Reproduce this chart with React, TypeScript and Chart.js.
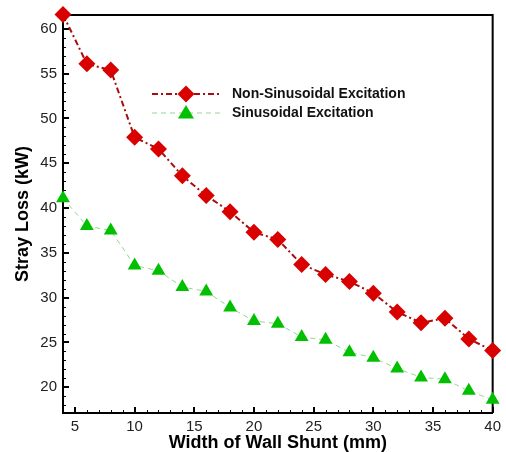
import React, { useEffect, useRef } from "react";
import { Chart, registerables } from "chart.js";

Chart.register(...registerables);

const widths = [4, 6, 8, 10, 12, 14, 16, 18, 20, 22, 24, 26, 28, 30, 32, 34, 36, 38, 40];
const nonSinusoidal = [61.6, 56.1, 55.4, 47.9, 46.6, 43.6, 41.4, 39.6, 37.3, 36.5, 33.7, 32.6, 31.8, 30.5, 28.4, 27.2, 27.7, 25.4, 24.1];
const sinusoidal = [41.1, 38.0, 37.5, 33.6, 33.0, 31.2, 30.7, 28.9, 27.4, 27.1, 25.6, 25.3, 23.9, 23.3, 22.1, 21.1, 20.9, 19.6, 18.6];
const xTicks = [5, 10, 15, 20, 25, 30, 35, 40];
const yTicks = [20, 25, 30, 35, 40, 45, 50, 55, 60];
const seriesNames = ["Non-Sinusoidal Excitation", "Sinusoidal Excitation"];

const RED_LINE = "#a80c0c";
const RED_FILL = "#d90000";
const GREEN_LINE = "#8fd88f";
const GREEN_FILL = "#00c000";
const FONT = "'Liberation Sans', Arial, sans-serif";

const framePlugin = {
  id: "frameTicks",
  beforeDatasetsDraw(chart: any) {
    const { ctx, chartArea: a, scales } = chart;
    ctx.save();
    ctx.strokeStyle = "#000";
    ctx.lineWidth = 2;
    ctx.beginPath();
    ctx.moveTo(a.left, a.top);
    ctx.lineTo(a.right, a.top);
    ctx.lineTo(a.right, a.bottom);
    ctx.stroke();
    const xs = scales.x;
    const ys = scales.y;
    ctx.lineWidth = 1;
    ctx.beginPath();
    for (let v = 5; v <= 39; v++) {
      if (v % 5 === 0) continue;
      const px = Math.round(xs.getPixelForValue(v)) + 0.5;
      ctx.moveTo(px, a.bottom);
      ctx.lineTo(px, a.bottom - 3);
    }
    for (let v = 18; v <= 61; v++) {
      if (v % 5 === 0) continue;
      const py = Math.round(ys.getPixelForValue(v)) + 0.5;
      ctx.moveTo(a.left, py);
      ctx.lineTo(a.left + 3, py);
    }
    ctx.stroke();
    ctx.lineWidth = 2;
    ctx.beginPath();
    for (const v of xTicks) {
      const px = Math.round(xs.getPixelForValue(v));
      ctx.moveTo(px, a.bottom);
      ctx.lineTo(px, a.bottom - 6);
    }
    for (const v of yTicks) {
      const py = Math.round(ys.getPixelForValue(v));
      ctx.moveTo(a.left, py);
      ctx.lineTo(a.left + 6, py);
    }
    ctx.stroke();
    ctx.restore();
  },
  afterDatasetsDraw(chart: any) {
    const { ctx } = chart;
    const items = [
      { y: 94, color: RED_LINE, fill: RED_FILL, dash: [6, 3, 2, 3], style: "diamond", width: 2 },
      { y: 113, color: GREEN_LINE, fill: GREEN_FILL, dash: [5, 4], style: "triangle", width: 1 },
    ];
    ctx.save();
    items.forEach((it, i) => {
      ctx.strokeStyle = it.color;
      ctx.lineWidth = it.width;
      ctx.setLineDash(it.dash);
      ctx.beginPath();
      ctx.moveTo(152, it.y);
      ctx.lineTo(220, it.y);
      ctx.stroke();
      ctx.setLineDash([]);
      ctx.fillStyle = it.fill;
      ctx.beginPath();
      const cx = 186;
      if (it.style === "diamond") {
        const r = 8.5;
        ctx.moveTo(cx, it.y - r);
        ctx.lineTo(cx + r, it.y);
        ctx.lineTo(cx, it.y + r);
        ctx.lineTo(cx - r, it.y);
      } else {
        const r = 8;
        ctx.moveTo(cx, it.y - r);
        ctx.lineTo(cx + r, it.y + r * 0.7);
        ctx.lineTo(cx - r, it.y + r * 0.7);
      }
      ctx.closePath();
      ctx.fill();
      ctx.fillStyle = "#111";
      ctx.font = `bold 14px ${FONT}`;
      ctx.textBaseline = "middle";
      ctx.textAlign = "left";
      ctx.fillText(seriesNames[i], 232, it.y);
    });
    ctx.restore();
  },
};

export default function App() {
  const ref = useRef<HTMLCanvasElement>(null);
  useEffect(() => {
    if (!ref.current) return;
    const chart = new Chart(ref.current, {
      type: "line",
      data: {
        datasets: [
          {
            label: seriesNames[0],
            data: widths.map((x, i) => ({ x, y: nonSinusoidal[i] })),
            borderColor: RED_LINE,
            borderWidth: 2,
            borderDash: [6, 3, 2, 3],
            backgroundColor: RED_FILL,
            pointBackgroundColor: RED_FILL,
            pointBorderColor: RED_FILL,
            pointStyle: "rectRot",
            pointRadius: 8.5,
            pointBorderWidth: 0,
            clip: false as any,
          },
          {
            label: seriesNames[1],
            data: widths.map((x, i) => ({ x, y: sinusoidal[i] })),
            borderColor: GREEN_LINE,
            borderWidth: 1,
            borderDash: [5, 4],
            backgroundColor: GREEN_FILL,
            pointBackgroundColor: GREEN_FILL,
            pointBorderColor: GREEN_FILL,
            pointStyle: "triangle",
            pointRadius: 8,
            pointBorderWidth: 0,
            clip: false as any,
          },
        ],
      },
      options: {
        responsive: false,
        animation: false,
        events: [],
        layout: { padding: { left: 0, top: 11, right: 9, bottom: 0 } },
        plugins: { legend: { display: false }, tooltip: { enabled: false } },
        scales: {
          x: {
            type: "linear",
            min: 4,
            max: 40,
            afterBuildTicks: (s: any) => {
              s.ticks = xTicks.map((v) => ({ value: v }));
            },
            afterFit: (s: any) => {
              s.height = 39;
            },
            grid: { display: false, drawTicks: false },
            border: { display: true, color: "#000", width: 2 },
            ticks: {
              padding: 5,
              maxRotation: 0,
              autoSkip: false,
              color: "#222",
              font: { family: FONT, size: 15 },
            },
            title: {
              display: true,
              text: "Width of Wall Shunt (mm)",
              color: "#000",
              font: { family: FONT, size: 18, weight: "bold", lineHeight: 1.0 },
              padding: { top: 0, bottom: 0 },
            },
          },
          y: {
            type: "linear",
            min: 17.13,
            max: 61.55,
            afterBuildTicks: (s: any) => {
              s.ticks = yTicks.map((v) => ({ value: v }));
            },
            afterFit: (s: any) => {
              s.width = 63;
            },
            grid: { display: false, drawTicks: false },
            border: { display: true, color: "#000", width: 2 },
            ticks: {
              padding: 6,
              autoSkip: false,
              color: "#222",
              font: { family: FONT, size: 15 },
            },
            title: {
              display: true,
              text: "Stray Loss (kW)",
              color: "#000",
              font: { family: FONT, size: 18, weight: "bold" },
              padding: { top: 12, bottom: 0 },
            },
          },
        },
      },
      plugins: [framePlugin],
    });
    return () => chart.destroy();
  }, []);
  return (
    <div style={{ position: "absolute", left: 0, top: 0, width: 506, height: 452, background: "#fff" }}>
      <canvas ref={ref} width={506} height={452} style={{ display: "block" }} />
    </div>
  );
}
